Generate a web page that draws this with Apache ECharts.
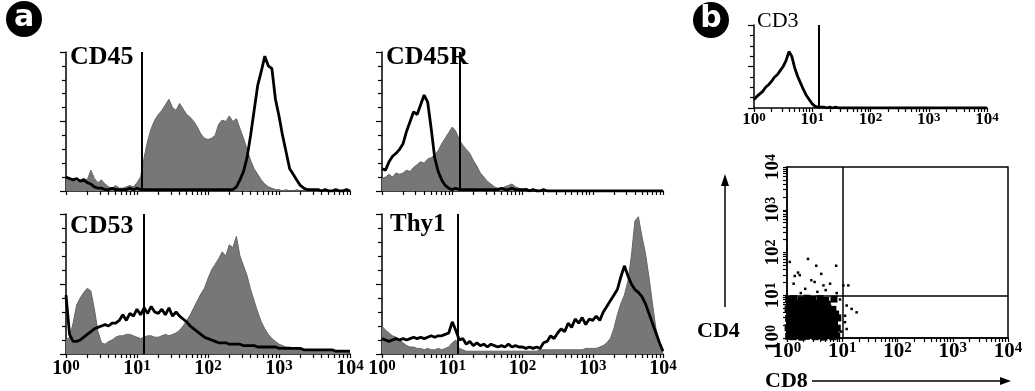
<!DOCTYPE html>
<html>
<head>
<meta charset="utf-8">
<script src="https://cdn.jsdelivr.net/npm/echarts@6/dist/echarts.min.js"></script>
<style>
html, body { margin: 0; padding: 0; background: #fff; }
#chart { width: 1035px; height: 391px; }
</style>
</head>
<body>
<div id="chart"></div>
<script>
// histogram bins: 0.05 decade wide, 10^0 .. 10^4 (81 points), counts in % of axis height
var BIN = 0.05;

var cd45Fill = [9,8,9,7,8,9,8,15,9,6, 8,5,3,2,4,2,2,3,4,3, 6,10,24,36,45,51,55,58,62,66,
  60,58,63,59,55,53,50,46,41,38, 37,38,40,48,51,50,54,50,52,45, 38,30,22,16,12,8,5,3,2,1,
  1,0,1,0,0,1,0,0,0,0, 0,0,0,0,0,0,0,0,0,0, 0];
var cd45Line = [10,9,8,9,7,8,6,5,3,2, 2,1,1,2,1,1,1,1,2,1, 2,1,1,1,1,1,1,1,1,1,
  1,1,1,1,1,1,1,1,1,1, 1,1,1,1,1,1,1,1,3,8, 14,24,40,58,76,86,97,90,88,66,
  54,40,28,16,12,8,4,2,1,1, 1,1,0,1,0,0,1,0,0,1, 0];

var cd45rFill = [9,10,12,10,13,12,13,15,14,17, 19,21,20,23,24,26,29,34,38,42, 46,43,37,33,30,27,22,18,13,10,
  7,5,3,2,2,3,4,5,3,2, 1,2,1,0,1,0,0,0,0,0, 0,0,0,0,0,0,0,0,0,0,
  0,0,0,0,0,0,0,0,0,0, 0,0,0,0,0,0,0,0,0,0, 0];
var cd45rLine = [16,15,21,25,27,30,34,43,50,57, 55,62,69,64,45,24,14,8,4,2, 1,2,1,1,1,1,1,1,1,1,
  1,1,1,1,2,1,1,2,1,1, 1,1,0,1,0,0,1,0,0,0, 0,0,0,0,0,0,0,0,0,0,
  0,0,0,0,0,0,0,0,0,0, 0,0,0,0,0,0,0,0,0,0, 0];

var cd53Fill = [10,12,22,35,40,44,47,45,32,16, 8,7,9,10,12,13,13,14,14,13, 12,11,12,13,13,12,12,13,14,13,
  14,15,17,20,24,28,33,38,43,47, 54,60,64,68,73,70,78,76,84,70, 63,56,46,38,30,23,18,14,11,9,
  7,6,5,5,4,4,3,3,3,3, 2,2,2,2,2,2,1,1,1,1, 1];
var cd53Line = [42,14,9,9,10,12,14,16,18,19, 20,21,20,22,22,24,28,24,29,27, 32,28,33,29,34,30,29,32,28,33,
  27,30,27,25,23,20,18,16,14,12, 11,10,9,8,8,8,7,7,7,7, 6,6,6,6,5,5,5,5,5,5,
  4,4,4,4,4,4,4,3,3,3, 3,3,3,3,3,3,2,2,2,2, 2];

var thy1Fill = [20,17,15,13,12,10,8,6,5,5, 4,4,3,4,3,3,4,3,4,5, 8,10,4,3,2,2,2,2,2,2,
  2,2,2,2,2,2,2,2,2,2, 2,2,2,2,2,3,3,3,3,3, 3,3,3,3,3,3,3,3,4,4,
  4,4,5,6,8,11,18,28,36,42, 52,70,95,98,84,72,55,36,18,8, 2];
var thy1Line = [11,10,9,10,11,10,11,10,11,12, 11,12,11,12,13,12,13,13,14,15, 23,17,10,11,7,9,6,8,6,7,
  5,7,6,5,6,5,7,5,6,5, 5,4,5,4,5,4,8,9,13,11, 15,18,16,22,19,25,22,26,21,25,
  24,27,24,30,34,38,42,46,55,63, 56,50,46,44,41,36,29,22,15,8, 2];

var cd3Line = [10,14,17,20,25,28,32,37,40,45, 50,57,68,62,48,38,30,22,15,10, 5,2,1,1,1,0,1,0,1,0,
  0,0,0,0,0,0,0,0,0,0, 0,0,0,0,0,0,0,0,0,0, 0,0,0,0,0,0,0,0,0,0,
  0,0,0,0,0,0,0,0,0,0, 0,0,0,0,0,0,0,0,0,0, 0];

// gate positions (log10 units)
var gates = [1.07, 1.1, 1.09, 1.08, 1.12];
var histNames = ['CD45', 'CD45R', 'CD53', 'Thy1', 'CD3'];
var expLabels = ['0', '1', '2', '3', '4'];

// CD8 (x) vs CD4 (y), log10 units
var cd8cd4Core = [
  [0.03,0.04],[0.11,0.03],[0.19,0.05],[0.27,0.02],[0.35,0.04],[0.43,0.06],[0.51,0.03],[0.59,0.05],[0.67,0.02],[0.75,0.06],[0.83,0.03],[0.9,0.05],
  [0.06,0.13],[0.14,0.16],[0.22,0.12],[0.3,0.15],[0.38,0.13],[0.47,0.16],[0.55,0.12],[0.63,0.15],[0.71,0.13],[0.79,0.16],[0.87,0.12],
  [0.02,0.24],[0.1,0.26],[0.18,0.23],[0.26,0.27],[0.34,0.24],[0.42,0.26],[0.5,0.23],[0.58,0.27],[0.66,0.24],[0.74,0.25],[0.82,0.27],[0.91,0.23],
  [0.05,0.35],[0.13,0.37],[0.21,0.34],[0.29,0.38],[0.37,0.35],[0.45,0.37],[0.53,0.34],[0.61,0.38],[0.69,0.35],[0.77,0.37],[0.86,0.34],
  [0.03,0.46],[0.11,0.48],[0.19,0.45],[0.27,0.49],[0.35,0.46],[0.44,0.48],[0.52,0.45],[0.6,0.49],[0.68,0.46],[0.76,0.48],[0.84,0.45],[0.92,0.47],
  [0.07,0.57],[0.15,0.59],[0.23,0.56],[0.31,0.6],[0.39,0.57],[0.47,0.59],[0.56,0.56],[0.64,0.6],[0.72,0.57],[0.8,0.59],[0.88,0.56],
  [0.02,0.68],[0.1,0.7],[0.18,0.67],[0.26,0.71],[0.34,0.68],[0.42,0.7],[0.5,0.67],[0.58,0.71],[0.66,0.68],[0.74,0.7],[0.83,0.67],
  [0.05,0.79],[0.14,0.81],[0.22,0.78],[0.31,0.82],[0.4,0.79],[0.48,0.81],[0.57,0.78],[0.65,0.82],[0.73,0.79],
  [0.03,0.9],[0.12,0.92],[0.25,0.89],[0.36,0.93],[0.47,0.9],[0.6,0.92],[0.7,0.88],[0.85,0.91]
];
var cd8cd4Sparse = [
  [0.05,1.78],[0.2,1.53],[0.14,1.45],[0.23,1.47],[0.38,1.85],[0.53,1.69],[0.89,1.69],[0.62,1.5],
  [0.44,1.35],[0.5,1.31],[0.66,1.23],[0.78,1.27],[0.12,1.27],[0.33,1.15],[1.02,1.23],[1.11,1.23],
  [1.17,0.68],[1.26,0.6],[1.08,0.76],[1.05,0.37],[1.08,0.21],[1.05,0.52],[0.96,0.9],[0.98,0.15],
  [0.55,1.08],[0.7,1.12],[0.25,1.05],[0.9,1.05]
];

var SERIF = '"Liberation Serif", "DejaVu Serif", serif';

// log minor tick positions (decoration only)
var logTicks = [];
for (var d = 0; d < 4; d++) {
  for (var k = 1; k <= 9; k++) logTicks.push(d + Math.log10(k));
}
logTicks.push(4);

function toXY(counts) {
  return counts.map(function (c, i) { return [i * BIN, c]; });
}

function powLabel(fs, sup) {
  return {
    formatter: function (v) { return '{b|10}{s|' + expLabels[Math.round(v)] + '}'; },
    rich: {
      b: { fontFamily: SERIF, fontWeight: 'bold', fontSize: fs, color: '#000' },
      s: { fontFamily: SERIF, fontWeight: 'bold', fontSize: sup, color: '#000', verticalAlign: 'top' }
    }
  };
}

function xAxisFor(gi, showLabel, fs, sup, margin) {
  var lab = powLabel(fs, sup);
  lab.show = showLabel;
  lab.margin = margin;
  return {
    type: 'value', gridIndex: gi, min: 0, max: 4, interval: 1,
    axisLine: { show: true, lineStyle: { color: '#000', width: 1.5 } },
    axisTick: { show: true, length: 4, customValues: logTicks, lineStyle: { color: '#000', width: 1.2 } },
    splitLine: { show: false },
    axisLabel: lab
  };
}

function yAxisHist(gi, major, split) {
  return {
    type: 'value', gridIndex: gi, min: 0, max: 100, interval: major,
    axisLine: { show: true, lineStyle: { color: '#000', width: 1.5 } },
    axisTick: { show: true, length: 6, lineStyle: { color: '#000', width: 1.2 } },
    minorTick: { show: true, splitNumber: split, length: 4, lineStyle: { color: '#000', width: 1.2 } },
    axisLabel: { show: false },
    splitLine: { show: false }
  };
}

function fillSeries(gi, counts) {
  return {
    type: 'line', xAxisIndex: gi, yAxisIndex: gi, data: toXY(counts),
    symbol: 'none', silent: true, z: 2,
    lineStyle: { color: '#666', width: 1 },
    areaStyle: { color: '#777', opacity: 1 }
  };
}

function lineSeries(gi, counts, gate) {
  return {
    type: 'line', xAxisIndex: gi, yAxisIndex: gi, data: toXY(counts),
    symbol: 'none', silent: true, z: 3,
    lineStyle: { color: '#000', width: 2.8 },
    markLine: {
      silent: true, symbol: 'none', label: { show: false },
      lineStyle: { color: '#000', width: 2, type: 'solid' },
      data: [{ xAxis: gate }]
    }
  };
}

var chart = echarts.init(document.getElementById('chart'));

var yScatterLabel = powLabel(19, 14);
yScatterLabel.rotate = 90;
yScatterLabel.margin = 4;

var option = {
  animation: false,
  backgroundColor: '#fff',
  grid: [
    { left: 66, top: 52, width: 284, height: 139 },
    { left: 382, top: 52, width: 281, height: 139 },
    { left: 66, top: 214, width: 284, height: 140 },
    { left: 382, top: 214, width: 281, height: 140 },
    { left: 754, top: 25, width: 233, height: 83 },
    { left: 787, top: 167, width: 221, height: 171, show: true, borderColor: '#000', borderWidth: 1.5 }
  ],
  xAxis: [
    xAxisFor(0, false, 20, 15, 5),
    xAxisFor(1, false, 20, 15, 5),
    xAxisFor(2, true, 20, 15, 5),
    xAxisFor(3, true, 20, 15, 5),
    xAxisFor(4, true, 17, 13, 3),
    xAxisFor(5, true, 21, 15, 3)
  ],
  yAxis: [
    yAxisHist(0, 50, 5),
    yAxisHist(1, 50, 5),
    yAxisHist(2, 50, 5),
    yAxisHist(3, 50, 5),
    yAxisHist(4, 50, 4),
    {
      type: 'value', gridIndex: 5, min: 0, max: 4, interval: 1,
      axisLine: { show: true, lineStyle: { color: '#000', width: 1.5 } },
      axisTick: { show: true, length: 4, customValues: logTicks, lineStyle: { color: '#000', width: 1.2 } },
      splitLine: { show: false },
      axisLabel: yScatterLabel
    }
  ],
  series: [
    fillSeries(0, cd45Fill), lineSeries(0, cd45Line, gates[0]),
    fillSeries(1, cd45rFill), lineSeries(1, cd45rLine, gates[1]),
    fillSeries(2, cd53Fill), lineSeries(2, cd53Line, gates[2]),
    fillSeries(3, thy1Fill), lineSeries(3, thy1Line, gates[3]),
    lineSeries(4, cd3Line, gates[4]),
    {
      type: 'scatter', xAxisIndex: 5, yAxisIndex: 5, data: cd8cd4Core,
      symbol: 'rect', symbolSize: 7, silent: true,
      itemStyle: { color: '#000', opacity: 1 },
      markLine: {
        silent: true, symbol: 'none', label: { show: false },
        lineStyle: { color: '#000', width: 1.5, type: 'solid' },
        data: [{ xAxis: 1 }, { yAxis: 1 }]
      }
    },
    {
      type: 'scatter', xAxisIndex: 5, yAxisIndex: 5, data: cd8cd4Sparse,
      symbol: 'rect', symbolSize: 2.5, silent: true,
      itemStyle: { color: '#000', opacity: 1 }
    }
  ],
  graphic: [
    { type: 'circle', shape: { cx: 24, cy: 19, r: 18 }, style: { fill: '#000' } },
    { type: 'text', x: 24, y: 18, style: { text: 'a', fill: '#fff', font: 'bold 30px "DejaVu Sans"', align: 'center', verticalAlign: 'middle' } },
    { type: 'circle', shape: { cx: 711, cy: 20, r: 18 }, style: { fill: '#000' } },
    { type: 'text', x: 711, y: 19, style: { text: 'b', fill: '#fff', font: 'bold 30px "DejaVu Sans"', align: 'center', verticalAlign: 'middle' } },
    { type: 'text', x: 70, y: 44, style: { text: histNames[0], fill: '#000', font: 'bold 26px ' + SERIF, verticalAlign: 'top' } },
    { type: 'text', x: 386, y: 44, style: { text: histNames[1], fill: '#000', font: 'bold 26px ' + SERIF, verticalAlign: 'top' } },
    { type: 'text', x: 70, y: 213, style: { text: histNames[2], fill: '#000', font: 'bold 26px ' + SERIF, verticalAlign: 'top' } },
    { type: 'text', x: 390, y: 212, style: { text: histNames[3], fill: '#000', font: 'bold 25px ' + SERIF, verticalAlign: 'top' } },
    { type: 'text', x: 757, y: 10, style: { text: histNames[4], fill: '#000', font: '22px ' + SERIF, verticalAlign: 'top' } },
    { type: 'text', x: 697, y: 331, style: { text: 'CD4', fill: '#000', font: 'bold 22px ' + SERIF, verticalAlign: 'middle' } },
    { type: 'text', x: 765, y: 381, style: { text: 'CD8', fill: '#000', font: 'bold 22px ' + SERIF, verticalAlign: 'middle' } },
    { type: 'line', shape: { x1: 725, y1: 307, x2: 725, y2: 184 }, style: { stroke: '#000', lineWidth: 1.5 } },
    { type: 'polygon', shape: { points: [[721, 186], [729, 186], [725, 174]] }, style: { fill: '#000' } },
    { type: 'line', shape: { x1: 812, y1: 381, x2: 1002, y2: 381 }, style: { stroke: '#000', lineWidth: 1.5 } },
    { type: 'polygon', shape: { points: [[1000, 377], [1000, 385], [1011, 381]] }, style: { fill: '#000' } }
  ]
};

chart.setOption(option);
</script>
</body>
</html>
